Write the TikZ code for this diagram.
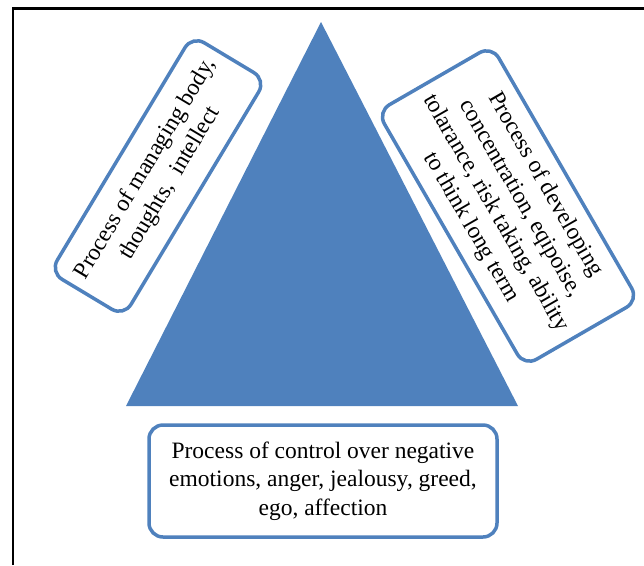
\documentclass[tikz,border=0pt]{standalone}
\usepackage{fontspec}
\setmainfont{Liberation Serif}
\definecolor{triblue}{RGB}{79,129,189}
\definecolor{edgeblue}{RGB}{79,129,189}
\begin{document}
\begin{tikzpicture}[x=1pt,y=-1pt,
  procbox/.style={draw=edgeblue, line width=3.5pt, fill=white, rounded corners=14pt,
    align=center, inner sep=0pt, font=\fontsize{23.5}{28.5}\selectfont}]
\useasboundingbox (0,0) rectangle (644,565);
% frame
\draw[line width=2.5pt] (13,565) -- (13,8.5) -- (644,8.5);
% triangle
\fill[triblue] (321,22) -- (126,406) -- (518,406) -- cycle;
% boxes
\node[procbox, rotate=59, minimum width=276pt, minimum height=86pt] (left) at (158,176)
  {Process of managing body,\\thoughts,\ \ intellect};
\node[procbox, rotate=-60, minimum width=294pt, minimum height=132pt] (right) at (508,206)
  {Process of developing\\concentration, eqipoise,\\tolarance, risk taking, ability\\to think long term};
\node[procbox, minimum width=348pt, minimum height=112pt] (bottom) at (323,481)
  {Process of control over negative\\emotions, anger, jealousy, greed,\\ego, affection};
\end{tikzpicture}
\end{document}
